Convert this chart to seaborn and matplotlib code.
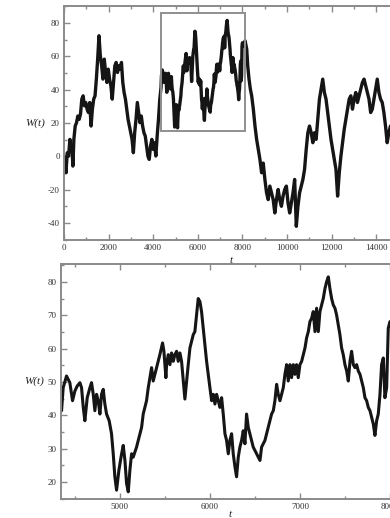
import matplotlib
matplotlib.use("Agg")
import matplotlib.pyplot as plt
import seaborn as sns
import pandas as pd
from matplotlib.ticker import MultipleLocator
from matplotlib.patches import Rectangle

# ---- data ----
t_early = [0, 44, 89, 148, 207, 267, 311, 356, 400, 444, 504, 563, 622, 681, 741, 800, 859, 919, 978,
           1037, 1096, 1156, 1215, 1274, 1333, 1393, 1452, 1511, 1570, 1630, 1689, 1748, 1807, 1867,
           1926, 1985, 2044, 2104, 2163, 2222, 2281, 2341, 2400, 2459, 2519, 2578, 2637, 2696, 2756,
           2815, 2874, 2933, 2993, 3052, 3111, 3170, 3230, 3289, 3348, 3407, 3467, 3526, 3585, 3644,
           3704, 3763, 3822, 3881, 3941, 4000, 4059, 4119, 4178, 4237, 4296]
w_early = [0, -1.8, -9.8, 2.2, 0.2, 10.2, 4.2, 6.2, -5.8, 10.2, 18.2, 20.2, 24.2, 22.2, 25.3, 34.3,
           36.3, 30.3, 32.3, 28.3, 26.3, 32.3, 18.2, 28.3, 34.3, 36.3, 46.3, 58.3, 72.3, 60.3, 54.3,
           46.3, 58.3, 50.3, 44.3, 52.3, 46.3, 42.3, 34.3, 44.3, 54.3, 56.3, 50.3, 54.3, 52.3, 56.3,
           44.3, 38.3, 34.3, 28.3, 22.2, 18.2, 14.2, 10.2, 2.2, 14.2, 22.2, 32.3, 26.3, 20.2, 24.2,
           18.2, 14.2, 12.2, 6.2, 0.2, -1.8, 6.2, 10.2, 4.2, 8.2, 0.2, 12.2, 22.2, 34.3]

t_zoom = [4352, 4370, 4407, 4426, 4444, 4474, 4500, 4526, 4556, 4574, 4593, 4611, 4637, 4667, 4685,
          4704, 4722, 4741, 4759, 4778, 4796, 4815, 4833, 4852, 4881, 4907, 4926, 4944, 4963, 4989,
          5019, 5037, 5056, 5074, 5093, 5111, 5130, 5148, 5185, 5204, 5241, 5259, 5296, 5315, 5333,
          5352, 5370, 5389, 5407, 5426, 5444, 5474, 5489, 5511, 5519, 5537, 5556, 5574, 5593, 5611,
          5630, 5648, 5667, 5685, 5704, 5722, 5741, 5759, 5778, 5796, 5815, 5833, 5852, 5870, 5889,
          5907, 5926, 5944, 5963, 5981, 6000, 6019, 6037, 6056, 6074, 6093, 6111, 6130, 6148, 6167,
          6185, 6204, 6222, 6241, 6259, 6278, 6296, 6315, 6333, 6352, 6370, 6389, 6407, 6426, 6444,
          6463, 6481, 6500, 6519, 6537, 6556, 6574, 6593, 6611, 6630, 6648, 6667, 6685, 6704, 6722,
          6741, 6759, 6778, 6796, 6815, 6833, 6852, 6870, 6889, 6907, 6926, 6944, 6963, 6981, 7000,
          7019, 7037, 7056, 7074, 7093, 7111, 7130, 7148, 7167, 7185, 7204, 7222, 7241, 7259, 7278,
          7296, 7315, 7333, 7352, 7370, 7389, 7407, 7426, 7444, 7463, 7481, 7500, 7519, 7537, 7556,
          7574, 7593, 7611, 7630, 7648, 7667, 7685, 7704, 7722, 7741, 7759, 7778, 7796, 7815, 7833,
          7852, 7870, 7889, 7907, 7926, 7944, 7963, 7981, 8000]
w_zoom = [41.4, 48.3, 51.8, 50.8, 49.8, 44.4, 47.3, 48.8, 49.8, 48.3, 42.4, 38.4, 45.3, 48.3, 49.8,
          46.3, 41.4, 46.3, 44.4, 40.4, 46.3, 47.8, 43.4, 40.4, 38.4, 34.5, 28.5, 21.6, 17.6, 23.6,
          28.5, 31.0, 26.5, 19.6, 17.1, 23.6, 28.5, 27.5, 30.5, 32.5, 36.4, 40.4, 44.4, 48.3, 51.3,
          54.3, 50.3, 52.3, 54.3, 56.2, 58.2, 61.7, 59.2, 51.3, 55.2, 58.2, 55.2, 58.7, 56.2, 58.2,
          59.2, 56.2, 58.7, 56.2, 50.3, 44.9, 50.3, 55.2, 60.2, 62.2, 64.2, 65.1, 70.1, 75.0, 74.1,
          71.1, 66.1, 61.2, 56.2, 52.3, 48.3, 44.4, 46.3, 43.4, 46.3, 44.4, 42.4, 45.3, 40.4, 34.5,
          32.5, 28.5, 32.5, 34.5, 28.5, 24.6, 21.6, 27.5, 30.5, 32.5, 35.4, 31.5, 40.4, 36.4, 34.5,
          32.5, 30.5, 29.5, 28.5, 27.5, 26.5, 30.5, 31.5, 32.5, 34.5, 36.4, 38.4, 40.4, 41.4, 44.4,
          49.3, 46.3, 44.4, 46.3, 48.3, 52.3, 55.2, 50.3, 55.2, 51.3, 55.2, 52.3, 55.2, 51.3, 55.2,
          56.2, 58.2, 60.2, 63.2, 65.1, 68.1, 69.1, 71.1, 65.1, 72.1, 65.1, 71.1, 73.1, 75.0, 78.0,
          80.0, 81.5, 78.0, 75.0, 73.1, 72.1, 70.1, 67.1, 64.2, 60.2, 58.2, 55.2, 53.3, 50.3, 56.2,
          59.2, 55.2, 54.3, 55.2, 53.3, 52.3, 50.3, 48.3, 45.3, 44.4, 42.4, 41.4, 39.4, 37.4, 34.0,
          38.4, 40.4, 46.3, 55.2, 57.2, 45.3, 48.3, 66.1, 68.1]

t_late = [8044, 8119, 8193, 8237, 8296, 8356, 8415, 8489, 8563, 8637, 8711, 8785, 8859, 8933, 9007,
          9082, 9156, 9230, 9304, 9378, 9452, 9526, 9600, 9674, 9748, 9822, 9896, 9970, 10044, 10119,
          10193, 10267, 10341, 10415, 10489, 10563, 10637, 10711, 10785, 10859, 10933, 11007, 11082,
          11156, 11230, 11304, 11378, 11452, 11526, 11600, 11674, 11748, 11822, 11896, 11970, 12044,
          12119, 12193, 12267, 12341, 12415, 12489, 12563, 12637, 12711, 12785, 12859, 12933, 13007,
          13082, 13156, 13230, 13304, 13378, 13452, 13526, 13600, 13674, 13748, 13822, 13896, 13970,
          14044, 14119, 14193, 14267, 14341, 14415, 14489, 14563, 14637]
w_late = [66.3, 69.3, 64.3, 54.3, 46.3, 40.3, 36.3, 28.3, 18.2, 10.2, 4.2, -1.8, -9.8, -4.0, -13.8,
          -21.8, -25.9, -17.8, -21.8, -25.9, -33.9, -25.9, -19.8, -25.9, -29.9, -23.8, -19.8, -17.8,
          -27.9, -33.9, -27.9, -21.8, -13.8, -41.9, -29.9, -21.8, -17.8, -13.8, -7.8, 4.2, 14.2, 18.2,
          14.2, 8.2, 14.2, 10.2, 22.2, 34.3, 40.3, 46.3, 38.3, 34.3, 26.3, 18.2, 10.2, 4.2, -1.8, -7.8,
          -23.8, -9.8, 0.2, 8.2, 16.2, 22.2, 28.3, 34.3, 36.3, 28.3, 34.3, 38.3, 32.3, 36.3, 40.3,
          44.3, 46.3, 42.3, 38.3, 34.3, 26.3, 28.3, 34.3, 40.3, 46.3, 38.3, 34.3, 32.3, 26.3, 18.2,
          8.2, 14.2, 18.2]

box_t = [4350, 8120]
box_w = [15, 86]

top_xticks = [0, 2000, 4000, 6000, 8000, 10000, 12000, 14000]
top_yticks = [-40, -20, 0, 20, 40, 60, 80]
bot_xticks = [5000, 6000, 7000, 8000]
bot_yticks = [20, 30, 40, 50, 60, 70, 80]

# ---- build frames ----
full = pd.DataFrame({"t": t_early + t_zoom + t_late, "W": w_early + w_zoom + w_late})
zoom = pd.DataFrame({"t": t_zoom + t_late[:2], "W": w_zoom + w_late[:2]})

sns.set_style("ticks")
plt.rcParams["font.family"] = ["Liberation Serif", "DejaVu Serif"]
plt.rcParams["axes.unicode_minus"] = False

fig = plt.figure(figsize=(3.9, 5.18), dpi=100)
ax1 = fig.add_axes([0.164, 0.537, 0.858, 0.451])
ax2 = fig.add_axes([0.156, 0.037, 0.867, 0.453])

line_c = "#151515"
spine_c = "#8a8a8a"
sns.lineplot(data=full, x="t", y="W", ax=ax1, color=line_c, linewidth=2.4,
             estimator=None, sort=False)
sns.lineplot(data=zoom, x="t", y="W", ax=ax2, color=line_c, linewidth=2.2,
             estimator=None, sort=False)

ax1.add_patch(Rectangle((box_t[0], box_w[0]), box_t[1] - box_t[0], box_w[1] - box_w[0],
                        fill=False, edgecolor="#8f8f8f", linewidth=1.4, zorder=3))

ax1.set_xlim(0, 15000)
ax1.set_ylim(-50, 90)
ax1.set_xticks(top_xticks)
ax1.set_yticks(top_yticks)
ax1.xaxis.set_minor_locator(MultipleLocator(1000))
ax1.yaxis.set_minor_locator(MultipleLocator(10))

ax2.set_xlim(4344, 8100)
ax2.set_ylim(15, 85.3)
ax2.set_xticks(bot_xticks)
ax2.set_yticks(bot_yticks)
ax2.xaxis.set_minor_locator(MultipleLocator(500))
ax2.yaxis.set_minor_locator(MultipleLocator(5))

for ax in (ax1, ax2):
    for s in ax.spines.values():
        s.set_visible(True)
        s.set_color(spine_c)
        s.set_linewidth(1.4)
    ax.tick_params(which="both", direction="in", top=True, right=True, colors=spine_c,
                   labelcolor="#333333", labelsize=6.5, pad=3)
    ax.tick_params(which="major", length=4, width=1.0)
    ax.tick_params(which="minor", length=2.5, width=1.0)
    ax.set_xlabel("t", fontsize=8, style="italic", color="#222222")
    ax.set_ylabel("W(t)", fontsize=8, style="italic", color="#222222", rotation=0,
                  ha="center", va="center")

ax1.yaxis.set_label_coords(-0.085, 0.5)
ax2.yaxis.set_label_coords(-0.080, 0.5)
ax1.xaxis.set_label_coords(0.5, -0.068)
ax2.xaxis.set_label_coords(0.5, -0.048)

fig.savefig("out.png", dpi=100)
